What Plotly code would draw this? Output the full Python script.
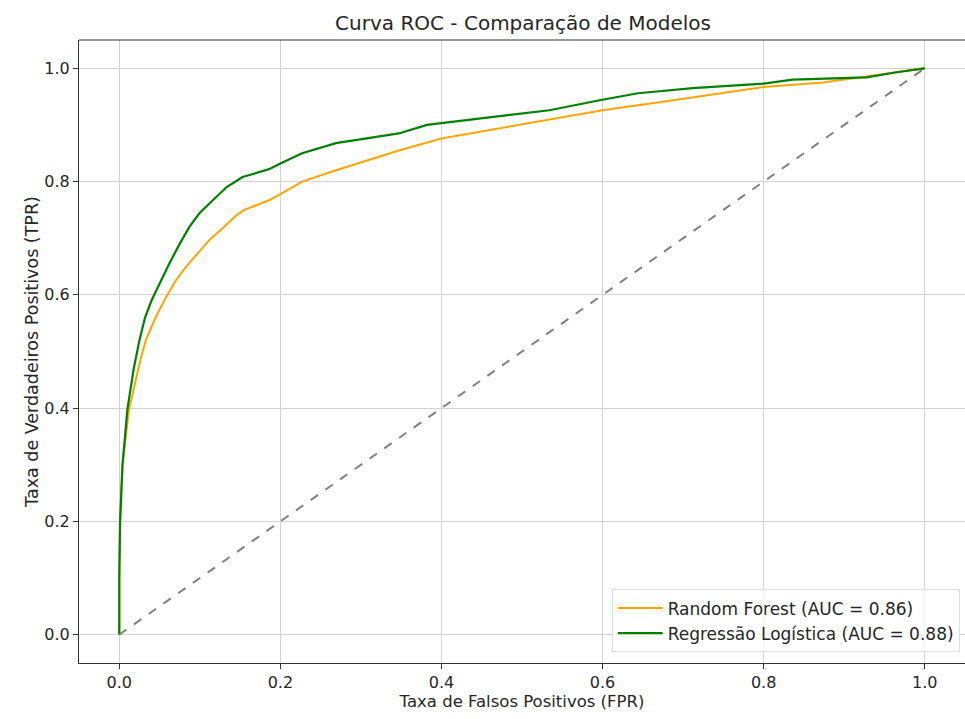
import plotly.graph_objects as go

# Data
rf_fpr = [0, 0, 0.001, 0.004, 0.012, 0.027, 0.033, 0.045, 0.058, 0.07, 0.083, 0.1, 0.112,
          0.13, 0.145, 0.155, 0.186, 0.2, 0.227, 0.269, 0.31, 0.347, 0.40, 0.506, 0.60,
          0.69, 0.80, 0.874, 0.92, 1.0]
rf_tpr = [0, 0.1, 0.2, 0.3, 0.397, 0.49, 0.52, 0.56, 0.596, 0.625, 0.65, 0.678, 0.697,
          0.72, 0.74, 0.75, 0.767, 0.778, 0.80, 0.82, 0.838, 0.855, 0.876, 0.903, 0.926,
          0.944, 0.967, 0.975, 0.984, 1.0]

lr_fpr = [0, 0, 0.001, 0.004, 0.01, 0.018, 0.025, 0.032, 0.04, 0.05, 0.062, 0.075, 0.087,
          0.1, 0.112, 0.133, 0.153, 0.17, 0.186, 0.2, 0.227, 0.269, 0.31, 0.347, 0.382,
          0.46, 0.534, 0.598, 0.644, 0.712, 0.80, 0.836, 0.928, 0.965, 1.0]
lr_tpr = [0, 0.1, 0.2, 0.3, 0.397, 0.47, 0.52, 0.56, 0.59, 0.62, 0.655, 0.69, 0.72,
          0.745, 0.762, 0.79, 0.808, 0.815, 0.822, 0.832, 0.85, 0.868, 0.877, 0.885, 0.90,
          0.914, 0.926, 0.944, 0.956, 0.965, 0.973, 0.98, 0.984, 0.993, 1.0]

diag = [0, 1]
tick_vals = [0.0, 0.2, 0.4, 0.6, 0.8, 1.0]
tick_text = ["0.0", "0.2", "0.4", "0.6", "0.8", "1.0"]

title = "Curva ROC - Comparação de Modelos"
xlabel = "Taxa de Falsos Positivos (FPR)"
ylabel = "Taxa de Verdadeiros Positivos (TPR)"
rf_name = "Random Forest (AUC = 0.86)"
lr_name = "Regressão Logística (AUC = 0.88)"

font = "DejaVu Sans"
txt = "#262626"

fig = go.Figure()
fig.add_trace(go.Scatter(x=rf_fpr, y=rf_tpr, mode="lines", name=rf_name,
                         line=dict(color="orange", width=2)))
fig.add_trace(go.Scatter(x=lr_fpr, y=lr_tpr, mode="lines", name=lr_name,
                         line=dict(color="green", width=2.2)))
fig.add_trace(go.Scatter(x=diag, y=diag, mode="lines", showlegend=False,
                         line=dict(color="gray", width=2, dash="dash")))

axis_common = dict(
    range=[-0.05, 1.05],
    tickvals=tick_vals, ticktext=tick_text,
    showgrid=True, gridcolor="#d3d3d3", gridwidth=1,
    zeroline=False,
    showline=True, linecolor="#333333", linewidth=1.2, mirror=False,
    ticks="outside", ticklen=5, tickcolor="#333333",
    tickfont=dict(family=font, size=16, color=txt),
)

fig.update_layout(
    width=965, height=719,
    margin=dict(l=79, r=0, t=40, b=56),
    paper_bgcolor="white", plot_bgcolor="white",
    title=dict(text=title, x=0.542, xanchor="center", y=0.968, yanchor="middle",
               font=dict(family=font, size=20, color=txt)),
    xaxis=dict(axis_common, title=dict(text=xlabel, standoff=4,
                                        font=dict(family=font, size=16.5, color=txt))),
    yaxis=dict(axis_common, title=dict(text=ylabel, standoff=1,
                                        font=dict(family=font, size=17.5, color=txt))),
    legend=dict(x=0.994, y=0.017, xanchor="right", yanchor="bottom",
                itemwidth=45,
                bgcolor="rgba(255,255,255,0.8)", bordercolor="#dddddd", borderwidth=1,
                font=dict(family=font, size=17, color=txt)),
    shapes=[dict(type="line", xref="paper", yref="paper", x0=0, x1=1, y0=1, y1=1,
                 line=dict(color="#333333", width=1.2))],
)

fig.write_html("out.html")
